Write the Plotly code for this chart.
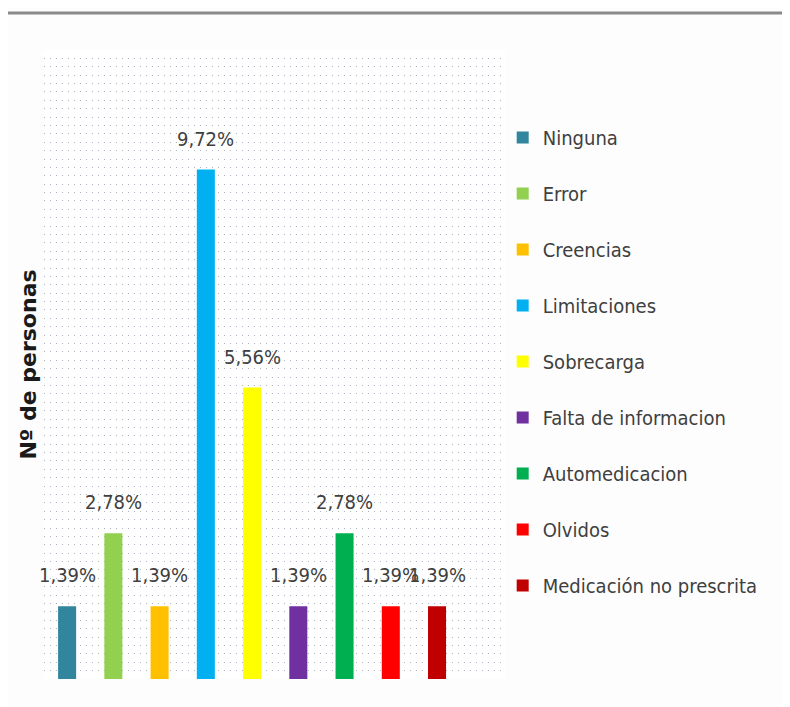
import plotly.graph_objects as go

categorias = ["Ninguna", "Error", "Creencias", "Limitaciones", "Sobrecarga",
              "Falta de informacion", "Automedicacion", "Olvidos",
              "Medicación no prescrita"]
porcentajes = [1.39, 2.78, 1.39, 9.72, 5.56, 1.39, 2.78, 1.39, 1.39]
colores = ["#31859c", "#92d050", "#ffc000", "#00b0f0", "#ffff00",
           "#7030a0", "#00b050", "#ff0000", "#c00000"]

fuente = "DejaVu Sans Condensed, Liberation Sans Narrow, Liberation Sans"

fig = go.Figure()

for cat, val, col in zip(categorias, porcentajes, colores):
    fig.add_trace(go.Bar(x=[cat], y=[val], name=cat, marker_color=col,
                         marker_line_width=0, width=0.39,
                         legendgroup=cat))

# etiquetas de porcentaje sobre cada barra
for cat, val in zip(categorias, porcentajes):
    fig.add_annotation(x=cat, y=val, text=f"{val:.2f}%".replace(".", ","),
                       showarrow=False, yanchor="bottom", yshift=17,
                       font=dict(family=fuente, size=20, color="#404040"))

# linea gris superior
fig.add_shape(type="line", xref="paper", yref="paper",
              x0=-0.2, x1=1.7, y0=1.0588, y1=1.0588,
              line=dict(color="#8a8a8a", width=3))

fig.update_layout(
    width=790, height=707,
    margin=dict(l=36, r=293, t=42, b=36),
    paper_bgcolor="#fdfdfd",
    plot_bgcolor="white",
    barmode="overlay",
    showlegend=True,
    legend=dict(x=0.995, y=0.892, xanchor="left", yanchor="top",
                tracegroupgap=27, bgcolor="rgba(0,0,0,0)",
                font=dict(family=fuente, size=20, color="#404040")),
    xaxis=dict(type="category", range=[-0.5, 9.47], showticklabels=False,
               showgrid=False, zeroline=False, showline=False, ticks=""),
    yaxis=dict(range=[0, 12], dtick=0.16, showticklabels=False,
               showgrid=True, gridcolor="#aab3c0", gridwidth=1,
               griddash="1px,5px", zeroline=False, showline=False,
               ticks="",
               title=dict(text="Nº de personas", standoff=0,
                          font=dict(family="DejaVu Sans", size=22,
                                    color="#1a1a1a", weight="bold"))),
)

fig.write_html("out.html")
